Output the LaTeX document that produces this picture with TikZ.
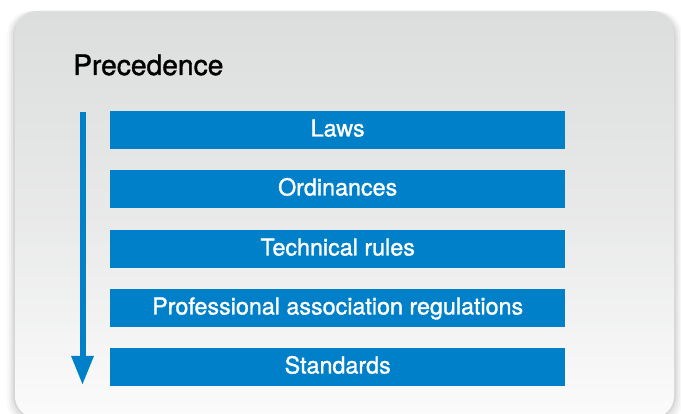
\documentclass[tikz,border=0pt]{standalone}
\usepackage{fontspec}
\setmainfont{TeX Gyre Heros}
\newfontfamily\medfont{TeX Gyre Heros}[FakeBold=1.3]
\usetikzlibrary{arrows.meta}
\definecolor{barblue}{RGB}{0,128,200}
\definecolor{paneltop}{RGB}{220,221,221}
\definecolor{panelbot}{RGB}{251,251,251}
\tikzset{
  bar/.style={fill=barblue, draw=none, minimum width=455pt, minimum height=38pt, inner sep=0pt,
    text height=16.5pt, text depth=4pt,
    text=white, font=\medfont\fontsize{23.3}{23.3}\selectfont, anchor=north west},
}
\begin{document}
\begin{tikzpicture}[x=1pt,y=-1pt]
\useasboundingbox (0,0) rectangle (681,414);
\fill[white] (0,0) rectangle (681,414);
% soft shadow
\foreach \d/\o in {8/0.025,6/0.035,4/0.045,2/0.06}{
  \fill[black,opacity=\o,rounded corners=24pt] (15-\d,11+2-\d*0.3) rectangle (674+\d,418+\d);
}
\shade[rounded corners=22pt, top color=paneltop, bottom color=panelbot, middle color=paneltop!60!panelbot]
  (15,11) rectangle (674,418);
\node[anchor=base west, font=\medfont\fontsize{28.2}{28.2}\selectfont, inner sep=0pt] (title) at (73,75) {Precedence};
\node[bar] (laws) at (110,111) {Laws};
\node[bar] (ord) at (110,170) {Ordinances};
\node[bar] (tech) at (110,230) {Technical rules};
\node[bar] (prof) at (110,289) {Professional association regulations};
\node[bar] (std) at (110,348) {Standards};
\coordinate (atop) at (82.5,112);
\coordinate (abot) at (82.5,385);
\draw[barblue, line width=6pt, -{Triangle[width=21pt,length=29pt]}] (atop) -- (abot);
\end{tikzpicture}
\end{document}
